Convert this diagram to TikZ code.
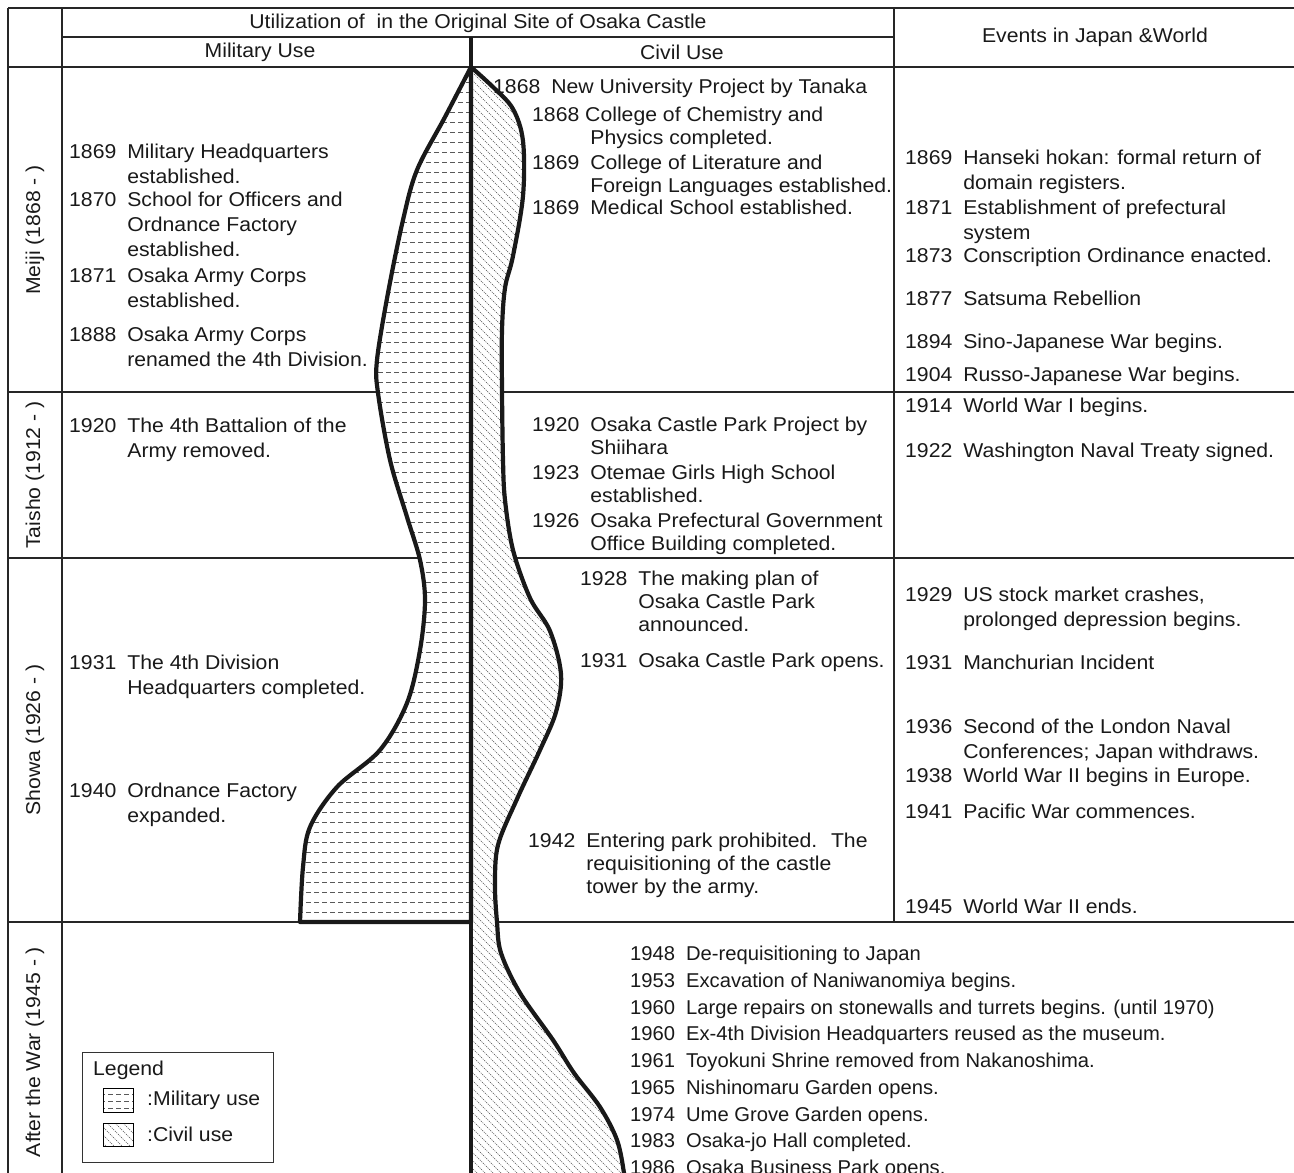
\documentclass[tikz,border=0pt]{standalone}
\usepackage{fontspec}
\setmainfont{Liberation Sans}[FakeStretch=1.06]
\newfontfamily\awfont{Liberation Sans}[FakeStretch=1.01]
\usetikzlibrary{calc}
% year + indented text, first line is the baseline
\newcommand{\yr}[2]{\begin{tabular}[t]{@{}l@{\hspace{11pt}}l@{}}#1 & #2\end{tabular}}
\def\milshape{plot[smooth,tension=0.55] coordinates {(471,67) (445,117) (417,170) (403,220) (388,293) (377,360) (378,393) (390,460) (407,517) (420,560) (425,600) (420,650) (407,703) (380,750) (337,787) (310,827) (303,867) (300,922)} -- (471,922) -- cycle}
\def\civshape{plot[smooth,tension=0.55] coordinates {(471,67) (494,88) (513,109) (523,141) (523,196) (513,256) (505,288) (502,330) (502,390) (503,460) (505,500) (513,550) (530,598) (550,631) (561,674) (556,712) (540,750) (517,799) (498,845) (495,885) (497,922) (501,953) (520,993) (553,1040) (574,1073) (600,1107) (617,1140) (624,1173) (627,1200)} -- (471,1200) -- cycle}

\begin{document}
\begin{tikzpicture}[x=1pt,y=-1pt,
    every node/.style={font=\fontsize{20}{25}\selectfont, text=black!90, inner sep=0pt},
    evt/.style={anchor=base west},
    civ/.style={evt, font=\fontsize{20}{23.4}\selectfont},
    aw/.style={evt, font=\awfont\fontsize{20}{25}\selectfont},
    grid/.style={line width=1.6pt, black!85},
    thickline/.style={line width=4.2pt, black!90},
    mildash/.style={line width=0.7pt, black!65, dash pattern=on 5pt off 3pt},
    civdot/.style={line width=0.6pt, black!70, dash pattern=on 1.1pt off 1.1pt}]
	%%%%% START %%%%%
	\useasboundingbox (0,0) rectangle (1294,1173);
	
	% table frame
	\draw[grid] (8,8) -- (1300,8);
	\draw[grid] (62,37) -- (894,37);
	\draw[grid] (8,67) -- (1300,67);
	\draw[grid] (8,392) -- (1300,392);
	\draw[grid] (8,558) -- (1300,558);
	\draw[grid] (8,922) -- (1300,922);
	\draw[grid] (8,8) -- (8,1180);
	\draw[grid] (62,8) -- (62,1180);
	\draw[grid] (894,8) -- (894,922);
	
	% military area
	\fill[white] \milshape;
	\begin{scope}
		\clip \milshape;
		\foreach \y in {72,82,...,922} \draw[mildash] (290,\y) -- (475,\y);
	\end{scope}
	
	% civil area
	\fill[white] \civshape;
	\begin{scope}
		\clip \civshape;
		\foreach \c in {-736,-728,...,580} \draw[civdot] ({\c+60},60) -- ({\c+1200},1200);
	\end{scope}
	
	\draw[thickline, line join=round] \milshape;
	\draw[thickline] plot[smooth,tension=0.55] coordinates {(471,67) (494,88) (513,109) (523,141) (523,196) (513,256) (505,288) (502,330) (502,390) (503,460) (505,500) (513,550) (530,598) (550,631) (561,674) (556,712) (540,750) (517,799) (498,845) (495,885) (497,922) (501,953) (520,993) (553,1040) (574,1073) (600,1107) (617,1140) (624,1173) (627,1200)};
	\draw[thickline] (471,37) -- (471,1185);
	
	% header
	\node (title) at (478,23) {Utilization of~ in the Original Site of Osaka Castle};
	\node (milh) at (260,52) {Military Use};
	\node (civh) at (682,52) {Civil Use};
	\node (evh) at (1095,37) {Events in Japan \&World};
	
	% eras
	\node[rotate=90] (meiji) at (35,230) {Meiji (1868 - )};
	\node[rotate=90] (taisho) at (35,475) {Taisho (1912 - )};
	\node[rotate=90] (showa) at (35,740) {Showa (1926 - )};
	\node[rotate=90] (after) at (35,1052) {After the War (1945 - )};
	
	% military use
	\node[evt] (m1869) at (69,158) {\yr{1869}{Military Headquarters\\ & established.}};
	\node[evt] (m1870) at (69,206) {\yr{1870}{School for Officers and\\ & Ordnance Factory\\ & established.}};
	\node[evt] (m1871) at (69,282) {\yr{1871}{Osaka Army Corps\\ & established.}};
	\node[evt] (m1888) at (69,341) {\yr{1888}{Osaka Army Corps\\ & renamed the 4th Division.}};
	\node[evt] (m1920) at (69,432) {\yr{1920}{The 4th Battalion of the\\ & Army removed.}};
	\node[evt] (m1931) at (69,669) {\yr{1931}{The 4th Division\\ & Headquarters completed.}};
	\node[evt] (m1940) at (69,797) {\yr{1940}{Ordnance Factory\\ & expanded.}};
	
	% civil use
	\node[civ] (c1868a) at (493,93) {\yr{1868}{New University Project by Tanaka}};
	\node[civ] (c1868b) at (532,121) {\begin{tabular}[t]{@{}l@{\hspace{11pt}}l@{}}\multicolumn{2}{@{}l@{}}{1868 College of Chemistry and}\\ \phantom{1868} & Physics completed.\end{tabular}};
	\node[civ] (c1869a) at (532,169) {\yr{1869}{College of Literature and\\ & Foreign Languages established.}};
	\node[civ] (c1869b) at (532,214) {\yr{1869}{Medical School established.}};
	\node[civ] (c1920) at (532,431) {\yr{1920}{Osaka Castle Park Project by\\ & Shiihara}};
	\node[civ] (c1923) at (532,479) {\yr{1923}{Otemae Girls High School\\ & established.}};
	\node[civ] (c1926) at (532,527) {\yr{1926}{Osaka Prefectural Government\\ & Office Building completed.}};
	\node[civ] (c1928) at (580,585) {\yr{1928}{The making plan of\\ & Osaka Castle Park\\ & announced.}};
	\node[civ] (c1931) at (580,667) {\yr{1931}{Osaka Castle Park opens.}};
	\node[civ] (c1942) at (528,847) {\yr{1942}{Entering park prohibited.~ The\\ & requisitioning of the castle\\ & tower by the army.}};
	
	% events
	\node[evt] (e1869) at (905,164) {\yr{1869}{Hanseki hokan: formal return of\\ & domain registers.}};
	\node[evt] (e1871) at (905,214) {\yr{1871}{Establishment of prefectural\\ & system}};
	\node[evt] (e1873) at (905,262) {\yr{1873}{Conscription Ordinance enacted.}};
	\node[evt] (e1877) at (905,305) {\yr{1877}{Satsuma Rebellion}};
	\node[evt] (e1894) at (905,348) {\yr{1894}{Sino-Japanese War begins.}};
	\node[evt] (e1904) at (905,381) {\yr{1904}{Russo-Japanese War begins.}};
	\node[evt] (e1914) at (905,412) {\yr{1914}{World War I begins.}};
	\node[evt] (e1922) at (905,457) {\yr{1922}{Washington Naval Treaty signed.}};
	\node[evt] (e1929) at (905,601) {\yr{1929}{US stock market crashes,\\ & prolonged depression begins.}};
	\node[evt] (e1931) at (905,669) {\yr{1931}{Manchurian Incident}};
	\node[evt] (e1936) at (905,733) {\yr{1936}{Second of the London Naval\\ & Conferences; Japan withdraws.}};
	\node[evt] (e1938) at (905,782) {\yr{1938}{World War II begins in Europe.}};
	\node[evt] (e1941) at (905,818) {\yr{1941}{Pacific War commences.}};
	\node[evt] (e1945) at (905,913) {\yr{1945}{World War II ends.}};
	
	% after the war
	\foreach \yy/\txt [count=\i from 0] in {1948/De-requisitioning to Japan, 1953/Excavation of Naniwanomiya begins., 1960/Large repairs on stonewalls and turrets begins. (until 1970), 1960/Ex-4th Division Headquarters reused as the museum., 1961/Toyokuni Shrine removed from Nakanoshima., 1965/Nishinomaru Garden opens., 1974/Ume Grove Garden opens., 1983/Osaka-jo Hall completed., 1986/Osaka Business Park opens.}
		\node[aw] (aw\i) at (630,{960.5+26.75*\i}) {\yr{\yy}{\txt}};
	
	% legend
	\draw[line width=1pt, black!80] (82,1052) rectangle (273,1162);
	\node[anchor=west] (leg) at (93,1070) {Legend};
	\begin{scope}
		\clip (103,1088) rectangle (133,1112);
		\foreach \y in {1094,1101,1108} \draw[mildash] (100,\y) -- (136,\y);
	\end{scope}
	\draw[line width=0.8pt] (103,1088) rectangle (133,1112);
	\begin{scope}
		\clip (103,1123) rectangle (133,1146);
		\foreach \c in {-60,-52,...,20} \draw[civdot] ({\c+100},1120) -- ({\c+130},1150);
	\end{scope}
	\draw[line width=0.8pt] (103,1123) rectangle (133,1146);
	\node[anchor=west] (legmil) at (147,1100) {:Military use};
	\node[anchor=west] (legciv) at (147,1134) {:Civil use};
	
	%%%%% END %%%%%
\end{tikzpicture}
\end{document}
